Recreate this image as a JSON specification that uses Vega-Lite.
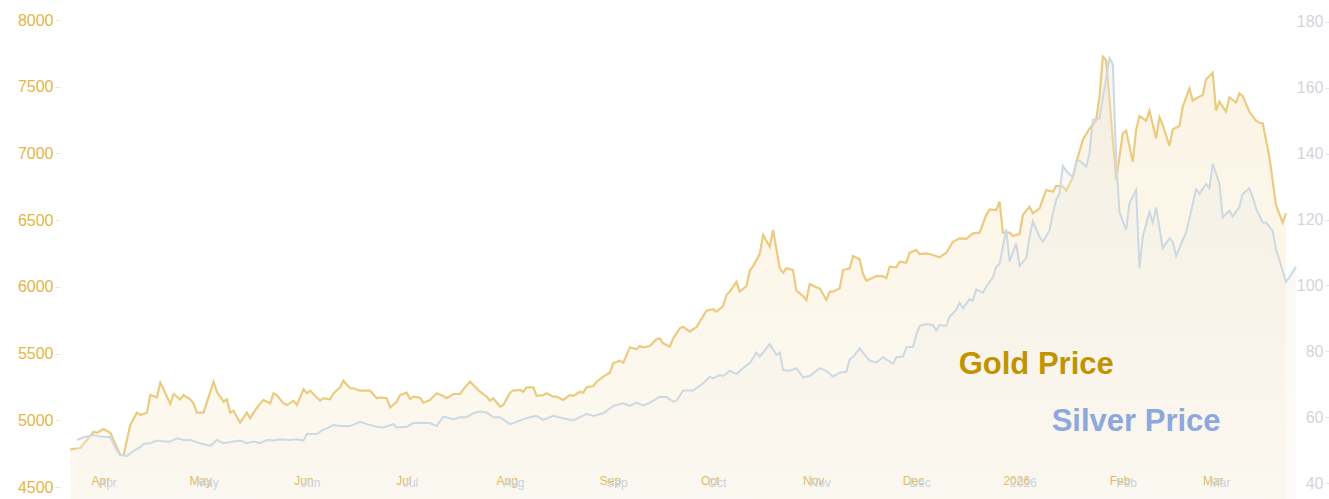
{
  "$schema": "https://vega.github.io/schema/vega-lite/v6.json",
  "autosize": "none",
  "width": 1219,
  "height": 467,
  "padding": {"left": 67, "top": 20, "right": 43, "bottom": 12},
  "background": "#FFFFFF",
  "config": {"view": {"stroke": null}, "font": "Liberation Sans"},
  "datasets": {
    "gold": [
      {"date":"2025-03-23","gold":4782},{"date":"2025-03-26","gold":4792},{"date":"2025-03-30","gold":4914},{"date":"2025-03-31","gold":4907},
      {"date":"2025-04-02","gold":4935},{"date":"2025-04-04","gold":4907},{"date":"2025-04-07","gold":4740},{"date":"2025-04-08","gold":4740},
      {"date":"2025-04-10","gold":4965},{"date":"2025-04-12","gold":5057},{"date":"2025-04-13","gold":5040},{"date":"2025-04-15","gold":5057},
      {"date":"2025-04-16","gold":5189},{"date":"2025-04-18","gold":5172},{"date":"2025-04-19","gold":5282},{"date":"2025-04-20","gold":5232},
      {"date":"2025-04-22","gold":5122},{"date":"2025-04-23","gold":5197},{"date":"2025-04-25","gold":5157},{"date":"2025-04-26","gold":5189},
      {"date":"2025-04-28","gold":5157},{"date":"2025-04-29","gold":5127},{"date":"2025-04-30","gold":5057},{"date":"2025-05-02","gold":5057},
      {"date":"2025-05-05","gold":5289},{"date":"2025-05-06","gold":5214},{"date":"2025-05-08","gold":5139},{"date":"2025-05-09","gold":5157},
      {"date":"2025-05-10","gold":5057},{"date":"2025-05-11","gold":5072},{"date":"2025-05-13","gold":4982},{"date":"2025-05-15","gold":5057},
      {"date":"2025-05-16","gold":5015},{"date":"2025-05-17","gold":5057},{"date":"2025-05-19","gold":5127},{"date":"2025-05-20","gold":5152},
      {"date":"2025-05-22","gold":5127},{"date":"2025-05-23","gold":5202},{"date":"2025-05-24","gold":5189},{"date":"2025-05-26","gold":5127},
      {"date":"2025-05-27","gold":5114},{"date":"2025-05-29","gold":5147},{"date":"2025-05-30","gold":5114},{"date":"2025-06-01","gold":5232},
      {"date":"2025-06-02","gold":5202},{"date":"2025-06-03","gold":5222},{"date":"2025-06-04","gold":5197},{"date":"2025-06-06","gold":5147},
      {"date":"2025-06-07","gold":5165},{"date":"2025-06-09","gold":5157},{"date":"2025-06-10","gold":5202},{"date":"2025-06-12","gold":5247},
      {"date":"2025-06-13","gold":5297},{"date":"2025-06-15","gold":5240},{"date":"2025-06-16","gold":5240},{"date":"2025-06-18","gold":5222},
      {"date":"2025-06-21","gold":5222},{"date":"2025-06-23","gold":5165},{"date":"2025-06-24","gold":5172},{"date":"2025-06-26","gold":5165},
      {"date":"2025-06-27","gold":5097},{"date":"2025-06-29","gold":5139},{"date":"2025-06-30","gold":5189},{"date":"2025-07-02","gold":5207},
      {"date":"2025-07-03","gold":5159},{"date":"2025-07-04","gold":5177},{"date":"2025-07-06","gold":5169},{"date":"2025-07-07","gold":5132},
      {"date":"2025-07-09","gold":5152},{"date":"2025-07-11","gold":5202},{"date":"2025-07-13","gold":5182},{"date":"2025-07-14","gold":5165},
      {"date":"2025-07-16","gold":5197},{"date":"2025-07-18","gold":5197},{"date":"2025-07-19","gold":5232},{"date":"2025-07-21","gold":5289},
      {"date":"2025-07-23","gold":5240},{"date":"2025-07-24","gold":5214},{"date":"2025-07-26","gold":5177},{"date":"2025-07-27","gold":5147},
      {"date":"2025-07-28","gold":5165},{"date":"2025-07-30","gold":5102},{"date":"2025-07-31","gold":5114},{"date":"2025-08-02","gold":5207},
      {"date":"2025-08-03","gold":5222},{"date":"2025-08-05","gold":5227},{"date":"2025-08-06","gold":5214},{"date":"2025-08-07","gold":5247},
      {"date":"2025-08-09","gold":5247},{"date":"2025-08-10","gold":5184},{"date":"2025-08-12","gold":5189},{"date":"2025-08-13","gold":5202},
      {"date":"2025-08-15","gold":5177},{"date":"2025-08-16","gold":5177},{"date":"2025-08-18","gold":5152},{"date":"2025-08-20","gold":5189},
      {"date":"2025-08-21","gold":5182},{"date":"2025-08-23","gold":5214},{"date":"2025-08-24","gold":5207},{"date":"2025-08-25","gold":5247},
      {"date":"2025-08-27","gold":5257},{"date":"2025-08-28","gold":5289},{"date":"2025-08-30","gold":5327},{"date":"2025-09-01","gold":5357},
      {"date":"2025-09-02","gold":5427},{"date":"2025-09-04","gold":5446},{"date":"2025-09-05","gold":5431},{"date":"2025-09-07","gold":5547},
      {"date":"2025-09-09","gold":5532},{"date":"2025-09-10","gold":5557},{"date":"2025-09-11","gold":5547},{"date":"2025-09-13","gold":5557},
      {"date":"2025-09-15","gold":5607},{"date":"2025-09-16","gold":5614},{"date":"2025-09-17","gold":5577},{"date":"2025-09-19","gold":5551},
      {"date":"2025-09-20","gold":5614},{"date":"2025-09-22","gold":5689},{"date":"2025-09-23","gold":5701},{"date":"2025-09-25","gold":5664},
      {"date":"2025-09-26","gold":5682},{"date":"2025-09-27","gold":5697},{"date":"2025-09-29","gold":5781},{"date":"2025-09-30","gold":5821},
      {"date":"2025-10-02","gold":5832},{"date":"2025-10-03","gold":5814},{"date":"2025-10-05","gold":5856},{"date":"2025-10-06","gold":5939},
      {"date":"2025-10-07","gold":5964},{"date":"2025-10-09","gold":6039},{"date":"2025-10-10","gold":5964},{"date":"2025-10-12","gold":6006},
      {"date":"2025-10-13","gold":6121},{"date":"2025-10-14","gold":6156},{"date":"2025-10-16","gold":6246},{"date":"2025-10-17","gold":6389},
      {"date":"2025-10-19","gold":6301},{"date":"2025-10-20","gold":6426},{"date":"2025-10-22","gold":6139},{"date":"2025-10-23","gold":6106},
      {"date":"2025-10-24","gold":6139},{"date":"2025-10-26","gold":6126},{"date":"2025-10-27","gold":5971},{"date":"2025-10-29","gold":5931},
      {"date":"2025-10-30","gold":5901},{"date":"2025-10-31","gold":6021},{"date":"2025-11-02","gold":5997},{"date":"2025-11-03","gold":5989},
      {"date":"2025-11-05","gold":5901},{"date":"2025-11-06","gold":5964},{"date":"2025-11-07","gold":5964},{"date":"2025-11-09","gold":5989},
      {"date":"2025-11-10","gold":6126},{"date":"2025-11-12","gold":6139},{"date":"2025-11-13","gold":6231},{"date":"2025-11-15","gold":6206},
      {"date":"2025-11-16","gold":6096},{"date":"2025-11-17","gold":6046},{"date":"2025-11-19","gold":6069},{"date":"2025-11-20","gold":6081},
      {"date":"2025-11-22","gold":6081},{"date":"2025-11-23","gold":6064},{"date":"2025-11-24","gold":6151},{"date":"2025-11-26","gold":6147},
      {"date":"2025-11-27","gold":6188},{"date":"2025-11-29","gold":6181},{"date":"2025-11-30","gold":6256},{"date":"2025-12-02","gold":6276},
      {"date":"2025-12-03","gold":6246},{"date":"2025-12-05","gold":6251},{"date":"2025-12-07","gold":6239},{"date":"2025-12-09","gold":6221},
      {"date":"2025-12-11","gold":6256},{"date":"2025-12-13","gold":6338},{"date":"2025-12-15","gold":6364},{"date":"2025-12-17","gold":6359},
      {"date":"2025-12-19","gold":6401},{"date":"2025-12-21","gold":6406},{"date":"2025-12-23","gold":6538},{"date":"2025-12-24","gold":6581},
      {"date":"2025-12-26","gold":6576},{"date":"2025-12-27","gold":6638},{"date":"2025-12-28","gold":6406},{"date":"2025-12-30","gold":6406},
      {"date":"2025-12-31","gold":6381},{"date":"2026-01-02","gold":6396},{"date":"2026-01-03","gold":6538},{"date":"2026-01-05","gold":6601},
      {"date":"2026-01-06","gold":6551},{"date":"2026-01-08","gold":6589},{"date":"2026-01-10","gold":6726},{"date":"2026-01-12","gold":6713},
      {"date":"2026-01-13","gold":6756},{"date":"2026-01-15","gold":6751},{"date":"2026-01-16","gold":6721},{"date":"2026-01-18","gold":6821},
      {"date":"2026-01-19","gold":6930},{"date":"2026-01-21","gold":7101},{"date":"2026-01-23","gold":7188},{"date":"2026-01-24","gold":7213},
      {"date":"2026-01-25","gold":7250},{"date":"2026-01-26","gold":7420},{"date":"2026-01-27","gold":7725},{"date":"2026-01-28","gold":7700},
      {"date":"2026-01-30","gold":7101},{"date":"2026-01-31","gold":6801},{"date":"2026-02-02","gold":7151},{"date":"2026-02-03","gold":7170},
      {"date":"2026-02-05","gold":6938},{"date":"2026-02-06","gold":7176},{"date":"2026-02-07","gold":7280},{"date":"2026-02-09","gold":7245},
      {"date":"2026-02-10","gold":7320},{"date":"2026-02-12","gold":7113},{"date":"2026-02-13","gold":7271},{"date":"2026-02-14","gold":7213},
      {"date":"2026-02-16","gold":7056},{"date":"2026-02-17","gold":7181},{"date":"2026-02-19","gold":7206},{"date":"2026-02-20","gold":7350},
      {"date":"2026-02-22","gold":7488},{"date":"2026-02-23","gold":7395},{"date":"2026-02-24","gold":7413},{"date":"2026-02-26","gold":7438},
      {"date":"2026-02-27","gold":7556},{"date":"2026-03-01","gold":7605},{"date":"2026-03-02","gold":7320},{"date":"2026-03-03","gold":7388},
      {"date":"2026-03-05","gold":7313},{"date":"2026-03-06","gold":7421},{"date":"2026-03-08","gold":7380},{"date":"2026-03-09","gold":7451},
      {"date":"2026-03-10","gold":7430},{"date":"2026-03-12","gold":7313},{"date":"2026-03-14","gold":7245},{"date":"2026-03-15","gold":7230},
      {"date":"2026-03-16","gold":7226},{"date":"2026-03-18","gold":6975},{"date":"2026-03-20","gold":6613},{"date":"2026-03-22","gold":6481},
      {"date":"2026-03-23","gold":6551}
    ],
    "silver": [
      {"date":"2025-03-23","silver":53.1},{"date":"2025-03-25","silver":53.9},{"date":"2025-03-28","silver":54.6},{"date":"2025-03-30","silver":54.1},
      {"date":"2025-04-02","silver":53.9},{"date":"2025-04-04","silver":49.8},{"date":"2025-04-05","silver":48.5},{"date":"2025-04-07","silver":48.2},
      {"date":"2025-04-09","silver":49.8},{"date":"2025-04-11","silver":50.9},{"date":"2025-04-12","silver":51.9},{"date":"2025-04-14","silver":52.1},
      {"date":"2025-04-16","silver":52.9},{"date":"2025-04-18","silver":52.6},{"date":"2025-04-20","silver":52.6},{"date":"2025-04-22","silver":53.6},
      {"date":"2025-04-24","silver":53.1},{"date":"2025-04-26","silver":53.1},{"date":"2025-04-29","silver":52.1},{"date":"2025-05-02","silver":51.3},
      {"date":"2025-05-04","silver":53.1},{"date":"2025-05-06","silver":52.1},{"date":"2025-05-09","silver":52.6},{"date":"2025-05-11","silver":52.9},
      {"date":"2025-05-13","silver":52.1},{"date":"2025-05-15","silver":52.6},{"date":"2025-05-17","silver":52.1},{"date":"2025-05-19","silver":53.1},
      {"date":"2025-05-21","silver":52.9},{"date":"2025-05-23","silver":53.3},{"date":"2025-05-26","silver":53.1},{"date":"2025-05-28","silver":53.3},
      {"date":"2025-05-30","silver":52.9},{"date":"2025-05-31","silver":54.9},{"date":"2025-06-03","silver":54.9},{"date":"2025-06-05","silver":56.3},
      {"date":"2025-06-06","silver":56.6},{"date":"2025-06-08","silver":57.6},{"date":"2025-06-10","silver":57.3},{"date":"2025-06-13","silver":57.3},
      {"date":"2025-06-16","silver":58.6},{"date":"2025-06-18","silver":57.9},{"date":"2025-06-21","silver":57.1},{"date":"2025-06-23","silver":56.9},
      {"date":"2025-06-26","silver":57.9},{"date":"2025-06-27","silver":56.9},{"date":"2025-06-30","silver":57.1},{"date":"2025-07-02","silver":58.2},
      {"date":"2025-07-04","silver":58.3},{"date":"2025-07-07","silver":58.2},{"date":"2025-07-09","silver":57.3},{"date":"2025-07-11","silver":60.2},
      {"date":"2025-07-14","silver":59.4},{"date":"2025-07-16","silver":60.0},{"date":"2025-07-18","silver":60.0},{"date":"2025-07-20","silver":61.2},
      {"date":"2025-07-22","silver":61.7},{"date":"2025-07-24","silver":61.4},{"date":"2025-07-26","silver":60.0},{"date":"2025-07-28","silver":60.0},
      {"date":"2025-07-31","silver":57.9},{"date":"2025-08-02","silver":58.6},{"date":"2025-08-04","silver":59.4},{"date":"2025-08-06","silver":60.0},
      {"date":"2025-08-08","silver":60.4},{"date":"2025-08-10","silver":59.2},{"date":"2025-08-13","silver":60.4},{"date":"2025-08-16","silver":59.7},
      {"date":"2025-08-19","silver":59.0},{"date":"2025-08-21","silver":60.0},{"date":"2025-08-23","silver":61.0},{"date":"2025-08-25","silver":60.4},
      {"date":"2025-08-28","silver":61.2},{"date":"2025-08-31","silver":63.4},{"date":"2025-09-03","silver":64.2},{"date":"2025-09-05","silver":63.4},
      {"date":"2025-09-07","silver":64.4},{"date":"2025-09-09","silver":63.6},{"date":"2025-09-11","silver":64.4},{"date":"2025-09-14","silver":66.2},
      {"date":"2025-09-16","silver":66.1},{"date":"2025-09-18","silver":64.7},{"date":"2025-09-19","silver":65.0},{"date":"2025-09-21","silver":68.1},
      {"date":"2025-09-24","silver":68.1},{"date":"2025-09-27","silver":70.3},{"date":"2025-09-29","silver":72.3},{"date":"2025-09-30","silver":71.8},
      {"date":"2025-10-02","silver":72.8},{"date":"2025-10-03","silver":72.5},{"date":"2025-10-05","silver":74.1},{"date":"2025-10-07","silver":73.1},
      {"date":"2025-10-09","silver":74.9},{"date":"2025-10-11","silver":76.4},{"date":"2025-10-13","silver":79.6},{"date":"2025-10-14","silver":78.4},
      {"date":"2025-10-17","silver":82.2},{"date":"2025-10-19","silver":78.9},{"date":"2025-10-20","silver":79.6},{"date":"2025-10-21","silver":74.3},
      {"date":"2025-10-23","silver":74.1},{"date":"2025-10-25","silver":74.9},{"date":"2025-10-27","silver":72.1},{"date":"2025-10-29","silver":72.5},
      {"date":"2025-11-01","silver":74.9},{"date":"2025-11-03","silver":74.1},{"date":"2025-11-05","silver":72.3},{"date":"2025-11-07","silver":73.5},
      {"date":"2025-11-09","silver":73.8},{"date":"2025-11-10","silver":77.6},{"date":"2025-11-11","silver":78.2},{"date":"2025-11-13","silver":80.9},
      {"date":"2025-11-14","silver":79.6},{"date":"2025-11-16","silver":77.2},{"date":"2025-11-18","silver":76.6},{"date":"2025-11-20","silver":78.2},
      {"date":"2025-11-23","silver":76.2},{"date":"2025-11-24","silver":78.2},{"date":"2025-11-26","silver":78.4},{"date":"2025-11-27","silver":81.2},
      {"date":"2025-11-29","silver":81.4},{"date":"2025-11-30","silver":85.0},{"date":"2025-12-01","silver":87.7},{"date":"2025-12-03","silver":88.3},
      {"date":"2025-12-05","silver":88.0},{"date":"2025-12-06","silver":86.3},{"date":"2025-12-07","silver":88.0},{"date":"2025-12-09","silver":87.7},
      {"date":"2025-12-10","silver":90.5},{"date":"2025-12-12","silver":92.6},{"date":"2025-12-13","silver":94.8},{"date":"2025-12-14","silver":93.1},
      {"date":"2025-12-16","silver":95.8},{"date":"2025-12-17","silver":95.4},{"date":"2025-12-18","silver":98.8},{"date":"2025-12-20","silver":97.8},
      {"date":"2025-12-21","silver":99.6},{"date":"2025-12-23","silver":102.5},{"date":"2025-12-24","silver":105.7},{"date":"2025-12-25","silver":106.5},
      {"date":"2025-12-27","silver":117.1},{"date":"2025-12-28","silver":107.2},{"date":"2025-12-30","silver":112.8},{"date":"2025-12-31","silver":105.9},
      {"date":"2026-01-02","silver":108.3},{"date":"2026-01-03","silver":114.8},{"date":"2026-01-04","silver":119.4},{"date":"2026-01-06","silver":114.8},
      {"date":"2026-01-07","silver":113.3},{"date":"2026-01-09","silver":116.8},{"date":"2026-01-10","silver":121.9},{"date":"2026-01-11","silver":126.0},
      {"date":"2026-01-12","silver":128.0},{"date":"2026-01-13","silver":136.3},{"date":"2026-01-14","silver":134.8},{"date":"2026-01-16","silver":132.8},
      {"date":"2026-01-17","silver":137.6},{"date":"2026-01-18","silver":137.9},{"date":"2026-01-20","silver":136.1},{"date":"2026-01-21","silver":140.1},
      {"date":"2026-01-22","silver":150.2},{"date":"2026-01-24","silver":150.8},{"date":"2026-01-27","silver":169.0},{"date":"2026-01-28","silver":167.2},
      {"date":"2026-01-29","silver":138.1},{"date":"2026-01-30","silver":122.4},{"date":"2026-02-01","silver":116.8},{"date":"2026-02-02","silver":125.0},
      {"date":"2026-02-04","silver":129.0},{"date":"2026-02-05","silver":105.2},{"date":"2026-02-06","silver":114.8},{"date":"2026-02-08","silver":122.4},
      {"date":"2026-02-09","silver":119.1},{"date":"2026-02-10","silver":123.7},{"date":"2026-02-12","silver":111.3},{"date":"2026-02-14","silver":114.3},
      {"date":"2026-02-15","silver":113.3},{"date":"2026-02-16","silver":108.9},{"date":"2026-02-18","silver":113.8},{"date":"2026-02-19","silver":116.0},
      {"date":"2026-02-21","silver":124.7},{"date":"2026-02-22","silver":129.2},{"date":"2026-02-23","silver":127.8},{"date":"2026-02-25","silver":130.8},
      {"date":"2026-02-26","silver":129.5},{"date":"2026-02-27","silver":136.9},{"date":"2026-03-01","silver":131.0},{"date":"2026-03-02","silver":120.7},
      {"date":"2026-03-04","silver":122.7},{"date":"2026-03-05","silver":120.9},{"date":"2026-03-07","silver":123.9},{"date":"2026-03-08","silver":127.8},
      {"date":"2026-03-10","silver":129.5},{"date":"2026-03-11","silver":126.8},{"date":"2026-03-12","silver":123.4},{"date":"2026-03-14","silver":119.1},
      {"date":"2026-03-15","silver":119.1},{"date":"2026-03-17","silver":116.6},{"date":"2026-03-18","silver":111.0},{"date":"2026-03-19","silver":107.7},
      {"date":"2026-03-21","silver":101.1},{"date":"2026-03-22","silver":102.5},{"date":"2026-03-24","silver":105.7}
    ],
    "labels": [
      {"date":"2026-01-05","value":73.1,"label":"Gold Price","series":"gold"},
      {"date":"2026-02-04","value":55.8,"label":"Silver Price","series":"silver"}
    ]
  },
  "layer": [
    {
      "data": {"name": "gold"},
      "encoding": {
        "x": {"field": "date", "type": "temporal",
          "scale": {"domain": ["2025-03-22", "2026-03-23"]},
          "axis": {"orient": "bottom", "title": null, "domain": false, "ticks": false, "grid": false, "zindex": 2,
            "offset": -14, "labelPadding": 2, "labelFontSize": 12, "labelColor": "#E6BA55",
            "tickCount": "month", "labelFlush": false,
            "labelExpr": "month(datum.value) == 0 ? timeFormat(datum.value, '%Y') : timeFormat(datum.value, '%b')"}},
        "y": {"field": "gold", "type": "quantitative",
          "scale": {"domain": [4500, 8000], "zero": false, "nice": false},
          "axis": {"orient": "left", "title": null, "grid": false, "domain": false, "offset": 7, "format": "d",
            "tickSize": 5, "tickColor": "#F4E6C4", "labelPadding": 2, "labelFontSize": 16,
            "labelColor": "#E4B548", "values": [4500, 5000, 5500, 6000, 6500, 7000, 7500, 8000]}}
      },
      "layer": [
        {"mark": {"type": "area", "clip": false, "opacity": 0.5,
          "color": {"gradient": "linear", "x1": 0, "y1": 1, "x2": 0, "y2": 0,
            "stops": [{"offset": 0, "color": "#FFFFFF"}, {"offset": 1, "color": "#F8EACB"}]}}},
        {"mark": {"type": "line", "clip": false, "color": "#EBCB80", "strokeWidth": 2.2}}
      ]
    },
    {
      "data": {"name": "silver"},
      "encoding": {
        "x": {"field": "date", "type": "temporal",
          "scale": {"domain": ["2025-03-20", "2026-03-21"]},
          "axis": {"orient": "bottom", "title": null, "domain": false, "ticks": false, "grid": false, "zindex": 2,
            "offset": -12, "labelPadding": 2, "labelFontSize": 12, "labelColor": "#C6D3E0",
            "tickCount": "month", "labelFlush": false,
            "labelExpr": "month(datum.value) == 0 ? timeFormat(datum.value, '%Y') : timeFormat(datum.value, '%b')"}},
        "y": {"field": "silver", "type": "quantitative",
          "scale": {"domain": [38.8, 180.6], "zero": false, "nice": false},
          "axis": {"orient": "left", "title": null, "grid": false, "domain": false, "offset": -1262, "format": "d",
            "tickSize": 4, "tickColor": "#E2E4E8", "labelPadding": 2, "labelFontSize": 16,
            "labelColor": "#D2D5DB", "values": [40, 60, 80, 100, 120, 140, 160, 180]}}
      },
      "layer": [
        {"mark": {"type": "area", "clip": false, "opacity": 0.35,
          "color": {"gradient": "linear", "x1": 0, "y1": 1, "x2": 0, "y2": 0,
            "stops": [{"offset": 0, "color": "#FBFAF8"}, {"offset": 1, "color": "#E9E5DB"}]}}},
        {"mark": {"type": "line", "clip": false, "color": "#CCD9E3", "strokeWidth": 2}},
        {"data": {"name": "labels"},
          "mark": {"type": "text", "font": "Liberation Sans", "fontWeight": "bold", "fontSize": 31,
            "align": "center", "baseline": "alphabetic"},
          "encoding": {
            "x": {"field": "date", "type": "temporal"},
            "y": {"field": "value", "type": "quantitative"},
            "text": {"field": "label"},
            "color": {"field": "series", "type": "nominal",
              "scale": {"domain": ["gold", "silver"], "range": ["#C29300", "#8CA8DC"]}, "legend": null}
          }}
      ]
    }
  ],
  "resolve": {"scale": {"x": "independent", "y": "independent"}, "axis": {"x": "independent", "y": "independent"}}
}
